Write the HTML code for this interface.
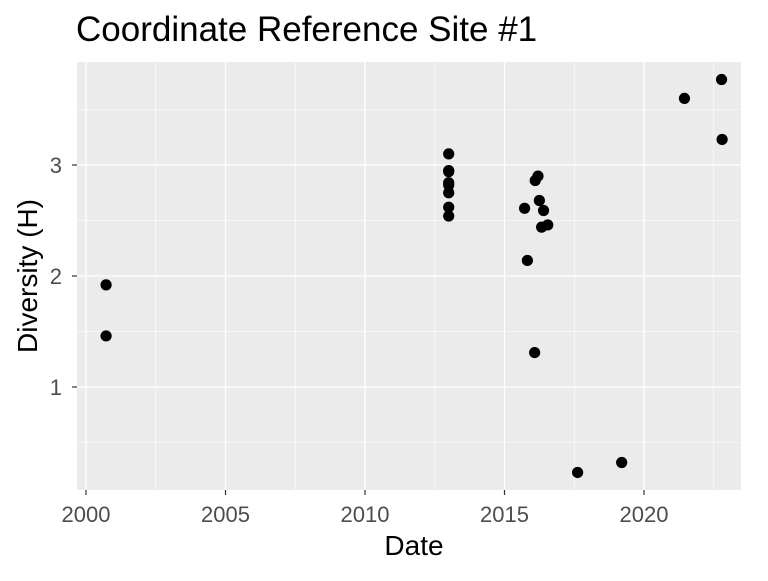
<!DOCTYPE html>
<html><head><meta charset="utf-8"><style>
body{margin:0;background:#fff;font-family:"Liberation Sans",sans-serif}
</style></head><body>
<svg id="c" width="768" height="576" xmlns="http://www.w3.org/2000/svg" font-family="Liberation Sans, sans-serif"></svg>
<script>
const years=[2000.72,2000.72,2013,2013,2013,2013,2013,2013,2013,2013,2015.72,2016.1,2016.2,2016.25,2016.4,2016.33,2016.55,2015.82,2016.08,2017.62,2019.2,2021.45,2022.78,2022.8];
const diversity=[1.92,1.46,3.10,2.95,2.94,2.84,2.82,2.75,2.62,2.54,2.61,2.86,2.90,2.68,2.59,2.44,2.46,2.14,1.31,0.23,0.32,3.60,3.77,3.23];
const xTicks=[2000,2005,2010,2015,2020];
const yTicks=[1,2,3];
const L=77,R=741,T=62,B=490;
const xs=v=>86+(v-2000)*27.9;
const ys=v=>165-(v-3)*111;
const svg=document.getElementById('c');
const NS='http://www.w3.org/2000/svg';
function mk(t,a,txt){const e=document.createElementNS(NS,t);for(const k in a)e.setAttribute(k,a[k]);if(txt!=null)e.textContent=txt;svg.appendChild(e);return e;}
let p=mk('rect',{x:L,y:T,width:R-L,height:B-T,fill:'#ebebeb'});


for(const t of xTicks){let g=mk('line',{x1:xs(t+2.5),x2:xs(t+2.5),y1:T,y2:B,stroke:'#fff','stroke-width':0.6});}
for(const t of [0.5,1.5,2.5,3.5]){let g=mk('line',{x1:L,x2:R,y1:ys(t),y2:ys(t),stroke:'#fff','stroke-width':0.6});}
for(const t of xTicks){let g=mk('line',{x1:xs(t),x2:xs(t),y1:T,y2:B,stroke:'#fff','stroke-width':1.3});
let k=mk('line',{x1:xs(t),x2:xs(t),y1:B,y2:B+5,stroke:'#333','stroke-width':1.2});
let l=mk('text',{x:xs(t),y:522,'text-anchor':'middle','font-size':22,fill:'#4d4d4d'},t);}
for(const t of yTicks){let g=mk('line',{x1:L,x2:R,y1:ys(t),y2:ys(t),stroke:'#fff','stroke-width':1.3});
let k=mk('line',{x1:L-5,x2:L,y1:ys(t),y2:ys(t),stroke:'#333','stroke-width':1.2});
let l=mk('text',{x:62,y:ys(t)+8,'text-anchor':'end','font-size':22,fill:'#4d4d4d'},t);}
years.forEach((v,i)=>{let c=mk('circle',{cx:xs(v),cy:ys(diversity[i]),r:5.6,fill:'#000'});});
let tt=mk('text',{x:76,y:41,'font-size':35,fill:'#000'},'Coordinate Reference Site #1');
let xt=mk('text',{x:(L+R)/2+5,y:555,'text-anchor':'middle','font-size':28,fill:'#000'},'Date');
let yt=mk('text',{x:0,y:0,'text-anchor':'middle','font-size':28,fill:'#000',transform:`translate(37,${(T+B)/2}) rotate(-90)`},'Diversity (H)');
</script>
</body></html>
